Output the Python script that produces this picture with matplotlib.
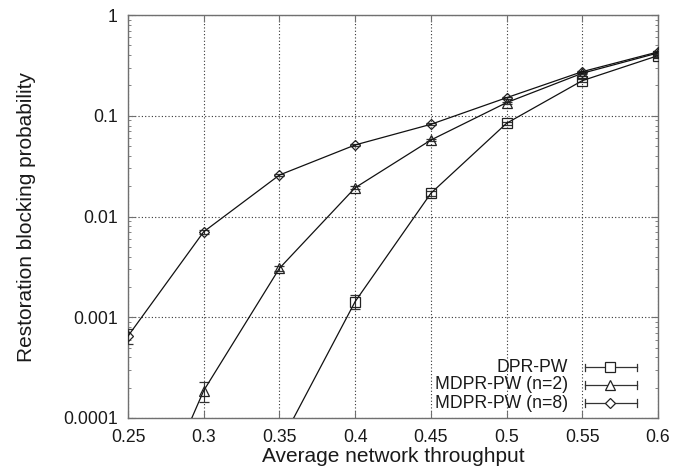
# -*- coding: utf-8 -*-
import numpy as np
import matplotlib
matplotlib.use("Agg")
import matplotlib.pyplot as plt
from matplotlib.lines import Line2D

plt.rcParams['font.family'] = ['Liberation Sans', 'DejaVu Sans']

# data
x_dpr = [0.35, 0.4, 0.45, 0.5, 0.55, 0.6]
y_dpr = [5.4e-5, 0.00143, 0.0170, 0.0842, 0.223, 0.395]
e_dpr = [1.0e-5, 0.00022, 0.0010, 0.003, 0.006, 0.008]

x_n2 = [0.25, 0.3, 0.35, 0.4, 0.45, 0.5, 0.55, 0.6]
y_n2 = [3.5e-6, 0.000187, 0.00306, 0.0193, 0.0574, 0.135, 0.264, 0.42]
e_n2 = [1.0e-6, 0.000042, 0.00015, 0.0006, 0.0015, 0.003, 0.006, 0.008]

x_n8 = [0.25, 0.3, 0.35, 0.4, 0.45, 0.5, 0.55, 0.6]
y_n8 = [0.00065, 0.00706, 0.0258, 0.0513, 0.0822, 0.151, 0.274, 0.43]
e_n8 = [0.00011, 0.0003, 0.0008, 0.0012, 0.0018, 0.003, 0.006, 0.008]

labels = ["DPR-PW", "MDPR-PW (n=2)", "MDPR-PW (n=8)"]
markers = ["s", "^", "D"]
msizes = [7, 7, 5.5]

xticks = [0.25, 0.3, 0.35, 0.4, 0.45, 0.5, 0.55, 0.6]
xticklabels = ["0.25", "0.3", "0.35", "0.4", "0.45", "0.5", "0.55", "0.6"]
yticks = [1e-4, 1e-3, 1e-2, 1e-1, 1]
yticklabels = ["0.0001", "0.001", "0.01", "0.1", "1"]

txt = '#1a1a1a'
spine = '#707070'

fig = plt.figure(figsize=(6.85, 4.76), dpi=100)
ax = fig.add_axes([128/685, 1-418/476, 530/685, 403/476])

series = [(x_dpr, y_dpr, e_dpr), (x_n2, y_n2, e_n2), (x_n8, y_n8, e_n8)]
for (xs, ys, es), m, ms in zip(series, markers, msizes):
    ax.errorbar(xs, ys, yerr=es, color='#111111', lw=0.9, marker=m, ms=ms,
                mfc='none', mec='#222222', mew=0.9, capsize=3.5,
                elinewidth=0.8, ecolor='#333333', clip_on=True, zorder=3)

ax.set_yscale('log')
ax.set_xlim(0.25, 0.6)
ax.set_ylim(1e-4, 1)
ax.set_xticks(xticks)
ax.set_xticklabels(xticklabels)
ax.set_yticks(yticks)
ax.set_yticklabels(yticklabels)

ax.grid(True, which='major', ls=(0, (1, 2)), color='#333333', lw=0.8)
ax.tick_params(which='both', direction='in', top=True, right=True,
               colors=spine, labelcolor=txt, labelsize=12.7)
ax.tick_params(which='major', length=5, width=0.8)
ax.tick_params(axis='x', which='major', pad=8)
ax.tick_params(axis='y', which='major', pad=7.5)
ax.tick_params(which='minor', length=2.5, width=0.6)
ax.tick_params(axis='x', which='minor', bottom=False, top=False)
for s in ax.spines.values():
    s.set_color(spine)
    s.set_linewidth(1.0)

ax.set_xlabel("Average network throughput", fontsize=15, color=txt, labelpad=0.5)
ax.set_ylabel("Restoration blocking probability", fontsize=15, color=txt, labelpad=19)

# gnuplot style key, drawn in axes coords
row_y = [0.126, 0.082, 0.037]
for lab, m, ms, yy in zip(labels, markers, msizes, row_y):
    ax.text(0.83, yy, lab, transform=ax.transAxes, ha='right', va='center',
            fontsize=12.7, color=txt)
    ax.add_line(Line2D([0.862, 0.96], [yy, yy], transform=ax.transAxes,
                       color='#333333', lw=0.9))
    for xc in (0.862, 0.96):
        ax.add_line(Line2D([xc, xc], [yy - 0.009, yy + 0.009], transform=ax.transAxes,
                           color='#333333', lw=0.9))
    ax.add_line(Line2D([0.91], [yy], transform=ax.transAxes, marker=m, ms=ms,
                       mfc='white', mec='#222222', mew=0.9, ls='none'))

fig.savefig("out.png", dpi=100)
